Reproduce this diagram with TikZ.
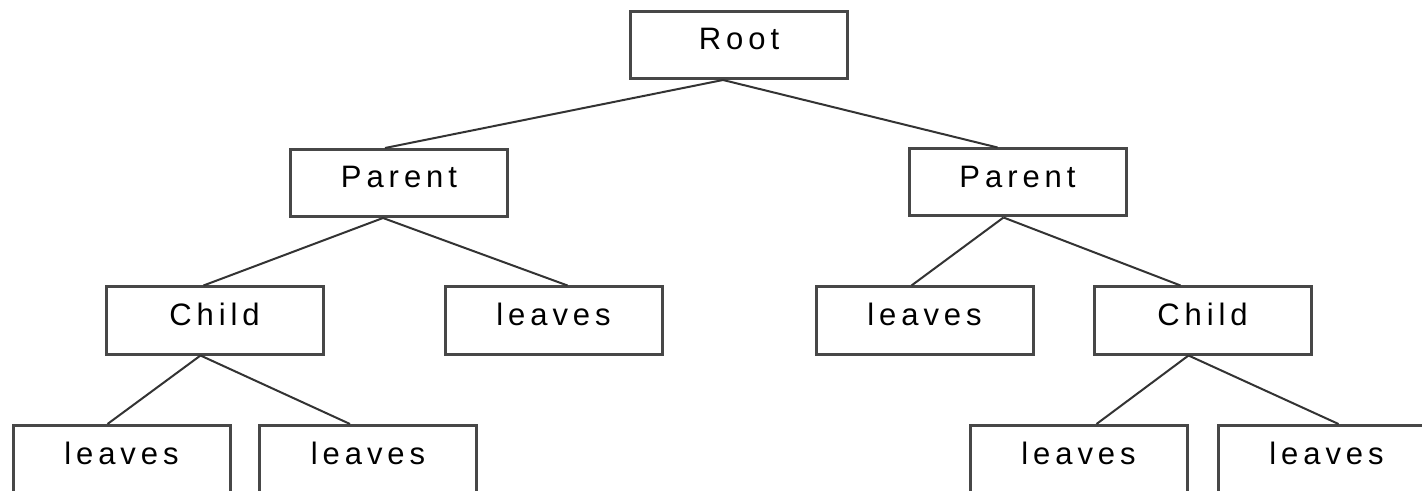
\documentclass[tikz,border=0pt]{standalone}
\usepackage{fontspec}
\setmainfont{Liberation Sans}[LetterSpace=16]
\begin{document}
\begin{tikzpicture}[x=0.5pt,y=-0.5pt,
  treebox/.style={draw=black!72, line width=1.5pt, fill=white,
    minimum width=108.5pt, minimum height=33.5pt, inner sep=0pt,
    text height=11pt, text depth=6pt,
    font=\fontsize{15.5pt}{18pt}\selectfont},
  link/.style={draw=black!80, line width=1pt}]
  \useasboundingbox (0,0) rectangle (1422,491);
  \clip (0,0) rectangle (1422,491);

  % level 0
  \node[treebox] (root) at (739,45) {Root};
  % level 1
  \node[treebox] (pl) at (399,183) {Parent};
  \node[treebox] (pr) at (1017.5,182.5) {Parent};
  % level 2
  \node[treebox] (cl) at (214.5,320.5) {Child};
  \node[treebox] (ll) at (553.5,320.5) {leaves};
  \node[treebox] (lr) at (924.5,320.5) {leaves};
  \node[treebox] (cr) at (1202.5,320.5) {Child};
  % level 3
  \node[treebox] (b1) at (121.5,459) {leaves};
  \node[treebox] (b2) at (368,459) {leaves};
  \node[treebox] (b3) at (1078.5,459) {leaves};
  \node[treebox] (b4) at (1326.5,459) {leaves};

  % connectors
  \draw[link] ([xshift=-8pt]root.south) -- ([xshift=-7pt]pl.north);
  \draw[link] ([xshift=-8pt]root.south) -- ([xshift=-10pt]pr.north);
  \draw[link] ([xshift=-8pt]pl.south) -- ([xshift=-5.5pt]cl.north);
  \draw[link] ([xshift=-8pt]pl.south) -- ([xshift=7pt]ll.north);
  \draw[link] ([xshift=-7pt]pr.south) -- ([xshift=-6.5pt]lr.north);
  \draw[link] ([xshift=-7pt]pr.south) -- ([xshift=-11pt]cr.north);
  \draw[link] ([xshift=-7pt]cl.south) -- ([xshift=-7pt]b1.north);
  \draw[link] ([xshift=-7pt]cl.south) -- ([xshift=-9pt]b2.north);
  \draw[link] ([xshift=-7pt]cr.south) -- ([xshift=9pt]b3.north);
  \draw[link] ([xshift=-7pt]cr.south) -- ([xshift=6pt]b4.north);
\end{tikzpicture}
\end{document}
